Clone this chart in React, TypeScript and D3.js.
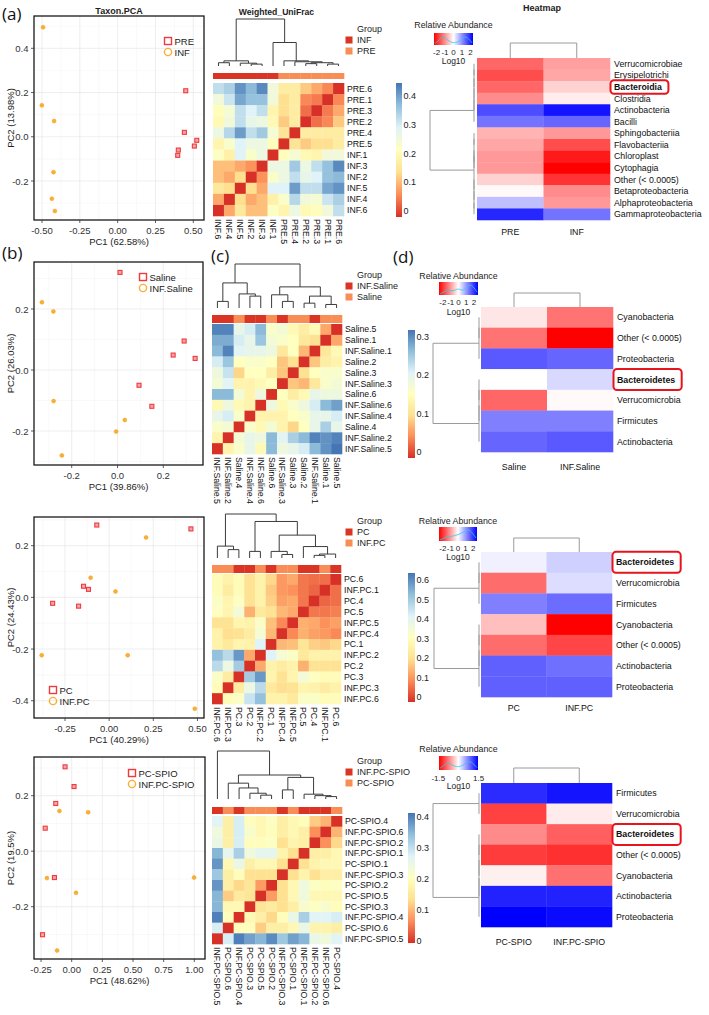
import React, { useLayoutEffect, useRef, useState } from "react";
import * as d3 from "d3";

type Tree = string | { h: number; c: [Tree, Tree] };
const nd = (h: number, a: Tree, b: Tree): Tree => ({ h, c: [a, b] });

const FONT = "'Liberation Sans', Arial, Helvetica, sans-serif";
const LABEL_FONT = "'Open Sans', 'Liberation Sans', Arial, sans-serif";
const PT_RED = "#ef3a3f";
const PT_ORANGE = "#f7b035";
const GRP_RED = "#da3425";
const GRP_ORANGE = "#f98d56";
const RDYLBU = ["#D73027", "#FC8D59", "#FEE090", "#FFFFBF", "#E0F3F8", "#91BFDB", "#4575B4"];
const TREE_GREY = "#9a9a9a";

/* ======================= (a) ======================= */
const pca1Names = ["PRE", "INF"];
const pca1PreX = [0.45, 0.441, 0.523, 0.507, 0.401, 0.397];
const pca1PreY = [0.208, 0.02, -0.016, -0.042, -0.06, -0.084];
const pca1InfX = [-0.493, -0.501, -0.42, -0.424, -0.435, -0.415];
const pca1InfY = [0.495, 0.142, 0.071, -0.16, -0.28, -0.336];
const pca1XTicks = [-0.5, -0.25, 0, 0.25, 0.5];
const pca1YTicks = [-0.2, 0, 0.2, 0.4];

const uf1Groups = ["INF", "PRE"];
const uf1Rows = ["PRE.6", "PRE.1", "PRE.3", "PRE.2", "PRE.4", "PRE.5", "INF.1", "INF.3", "INF.2", "INF.5", "INF.4", "INF.6"];
const uf1Cols = ["INF.6", "INF.4", "INF.5", "INF.2", "INF.3", "INF.1", "PRE.5", "PRE.4", "PRE.2", "PRE.3", "PRE.1", "PRE.6"];
const uf1Vals = [
  [0.33, 0.35, 0.42, 0.38, 0.43, 0.26, 0.18, 0.18, 0.13, 0.10, 0.07, 0],
  [0.26, 0.32, 0.40, 0.37, 0.37, 0.26, 0.15, 0.18, 0.07, 0.06, 0, 0.07],
  [0.22, 0.25, 0.33, 0.30, 0.33, 0.20, 0.15, 0.18, 0.05, 0, 0.06, 0.10],
  [0.21, 0.26, 0.33, 0.28, 0.27, 0.21, 0.13, 0.18, 0, 0.05, 0.07, 0.13],
  [0.27, 0.34, 0.41, 0.33, 0.36, 0.25, 0.16, 0, 0.18, 0.18, 0.18, 0.18],
  [0.20, 0.24, 0.30, 0.27, 0.27, 0.22, 0, 0.16, 0.13, 0.15, 0.15, 0.18],
  [0.23, 0.19, 0.30, 0.24, 0.27, 0, 0.22, 0.25, 0.21, 0.20, 0.26, 0.26],
  [0.12, 0.12, 0.10, 0.08, 0, 0.27, 0.27, 0.36, 0.27, 0.33, 0.37, 0.43],
  [0.12, 0.10, 0.15, 0, 0.08, 0.24, 0.27, 0.33, 0.28, 0.30, 0.37, 0.38],
  [0.17, 0.15, 0, 0.15, 0.10, 0.30, 0.30, 0.41, 0.33, 0.33, 0.40, 0.42],
  [0.10, 0, 0.15, 0.10, 0.12, 0.19, 0.24, 0.34, 0.26, 0.25, 0.32, 0.35],
  [0, 0.10, 0.17, 0.12, 0.12, 0.23, 0.20, 0.27, 0.21, 0.22, 0.26, 0.33],
];
const uf1Tree = nd(1,
  nd(0.11, nd(0.07, "INF.6", "INF.4"), nd(0.06, "INF.5", nd(0.04, "INF.2", "INF.3"))),
  nd(0.5, "INF.1", nd(0.11, "PRE.5", nd(0.09, "PRE.4", nd(0.07, nd(0.05, "PRE.2", "PRE.3"), nd(0.04, "PRE.1", "PRE.6"))))));
const uf1BarTicks = [0, 0.1, 0.2, 0.3, 0.4];

const ab1Taxa = ["Verrucomicrobiae", "Erysipelotrichi", "Bacteroidia", "Clostridia", "Actinobacteria", "Bacilli",
  "Sphingobacteriia", "Flavobacteriia", "Chloroplast", "Cytophagia", "Other (< 0.0005)", "Betaproteobacteria",
  "Alphaproteobacteria", "Gammaproteobacteria"];
const ab1Samples = ["PRE", "INF"];
const ab1Pre = [-1.2, -1.4, -1.2, -0.9, 1.4, 1.1, -0.6, -0.7, -0.8, -0.8, -0.35, -0.05, 0.5, 1.7];
const ab1Inf = [-0.75, -0.7, -0.35, -0.15, 1.85, 1.2, -0.8, -1.4, -1.8, -2.0, -1.6, -0.9, -0.8, 1.1];
const ab1Tree = nd(1,
  nd(0, nd(0, nd(0, nd(0, nd(0, "Verrucomicrobiae", "Erysipelotrichi"), "Bacteroidia"), "Clostridia"), "Actinobacteria"), "Bacilli"),
  nd(0, nd(0, nd(0, "Sphingobacteriia", "Flavobacteriia"), nd(0, "Chloroplast", "Cytophagia")),
    nd(0, "Other (< 0.0005)", nd(0, "Betaproteobacteria", nd(0, "Alphaproteobacteria", "Gammaproteobacteria")))));
const ab1KeyTicks = [-2, -1, 0, 1, 2];
const ab1Density = [0.1, 0.35, 0.85, 0.55, 0.25, 0.15, 0.2, 0.4, 0.8, 0.6, 0.15];

/* ======================= (b) Saline ======================= */
const pca2Names = ["Saline", "INF.Saline"];
const pca2SalX = [0.011, 0.291, 0.243, 0.339, 0.094, 0.15];
const pca2SalY = [0.32, 0.095, 0.049, 0.038, -0.05, -0.119];
const pca2InfX = [-0.33, -0.28, -0.279, 0.032, -0.006, -0.243];
const pca2InfY = [0.222, 0.192, -0.102, -0.164, -0.202, -0.28];
const pca2XTicks = [-0.2, 0, 0.2];
const pca2YTicks = [-0.2, 0, 0.2];

const uf2Groups = ["INF.Saline", "Saline"];
const uf2Rows = ["Saline.5", "Saline.1", "INF.Saline.1", "Saline.2", "Saline.3", "INF.Saline.3", "Saline.6",
  "INF.Saline.6", "INF.Saline.4", "Saline.4", "INF.Saline.2", "INF.Saline.5"];
const uf2Cols = ["INF.Saline.5", "INF.Saline.2", "Saline.4", "INF.Saline.4", "INF.Saline.6", "Saline.6",
  "INF.Saline.3", "Saline.3", "Saline.2", "INF.Saline.1", "Saline.1", "Saline.5"];
const uf2Vals = [
  [0.31, 0.31, 0.20, 0.22, 0.27, 0.17, 0.18, 0.15, 0.13, 0.15, 0.07, 0],
  [0.28, 0.28, 0.22, 0.20, 0.26, 0.18, 0.17, 0.16, 0.12, 0.11, 0, 0.07],
  [0.27, 0.31, 0.21, 0.20, 0.20, 0.19, 0.12, 0.16, 0.08, 0, 0.12, 0.15],
  [0.22, 0.26, 0.16, 0.17, 0.17, 0.16, 0.09, 0.11, 0, 0.09, 0.13, 0.14],
  [0.19, 0.23, 0.10, 0.16, 0.16, 0.13, 0.09, 0, 0.11, 0.16, 0.17, 0.17],
  [0.18, 0.21, 0.14, 0.14, 0.15, 0.16, 0, 0.09, 0.08, 0.12, 0.17, 0.18],
  [0.27, 0.27, 0.18, 0.14, 0.19, 0, 0.16, 0.13, 0.15, 0.20, 0.19, 0.19],
  [0.15, 0.19, 0.15, 0.14, 0, 0.19, 0.15, 0.17, 0.19, 0.22, 0.27, 0.29],
  [0.20, 0.22, 0.17, 0, 0.14, 0.14, 0.14, 0.16, 0.17, 0.20, 0.20, 0.22],
  [0.17, 0.18, 0, 0.17, 0.15, 0.18, 0.14, 0.10, 0.16, 0.20, 0.25, 0.20],
  [0.14, 0, 0.18, 0.20, 0.19, 0.27, 0.21, 0.25, 0.27, 0.31, 0.30, 0.31],
  [0, 0.14, 0.17, 0.20, 0.15, 0.27, 0.19, 0.20, 0.22, 0.27, 0.30, 0.32],
];
const uf2Tree = nd(1,
  nd(0.57, nd(0.15, "INF.Saline.5", "INF.Saline.2"), nd(0.32, "Saline.4", nd(0.27, "INF.Saline.4", "INF.Saline.6"))),
  nd(0.48, nd(0.3, "Saline.6", nd(0.15, "INF.Saline.3", "Saline.3")),
    nd(0.27, nd(0.11, "Saline.2", "INF.Saline.1"), nd(0.08, "Saline.1", "Saline.5"))));
const uf2BarTicks = [0, 0.1, 0.2, 0.3];

const ab2Taxa = ["Cyanobacteria", "Other (< 0.0005)", "Proteobacteria", "Bacteroidetes", "Verrucomicrobia", "Firmicutes", "Actinobacteria"];
const ab2Samples = ["Saline", "INF.Saline"];
const ab2Sal = [-0.2, -1.1, 1.3, 0, -1.2, 1.0, 1.2];
const ab2Inf = [-1.1, -2.0, 1.2, 0.3, -0.05, 1.0, 1.3];
const ab2Tree = nd(1,
  nd(0, nd(0, "Cyanobacteria", "Other (< 0.0005)"), "Proteobacteria"),
  nd(0, nd(0, nd(0, "Bacteroidetes", "Verrucomicrobia"), "Firmicutes"), "Actinobacteria"));
const ab2KeyTicks = [-2, -1, 0, 1, 2];
const ab2Density = [0.05, 0.2, 0.45, 0.3, 0.35, 0.55, 0.3, 0.5, 0.9, 0.7, 0.2];

/* ======================= PC ======================= */
const pca3Names = ["PC", "INF.PC"];
const pca3PcX = [-0.07, 0.463, -0.145, -0.117, -0.32, -0.173];
const pca3PcY = [0.28, 0.265, 0.043, 0.031, -0.023, -0.034];
const pca3InfX = [0.209, -0.105, 0.036, -0.382, 0.105, 0.485];
const pca3InfY = [0.232, 0.076, 0.023, -0.224, -0.224, -0.431];
const pca3XTicks = [-0.25, 0, 0.25, 0.5];
const pca3YTicks = [-0.4, -0.2, 0, 0.2];

const uf3Groups = ["PC", "INF.PC"];
const uf3Rows = ["PC.6", "INF.PC.1", "PC.4", "PC.5", "INF.PC.5", "INF.PC.4", "PC.1", "INF.PC.2", "PC.2", "PC.3", "INF.PC.3", "INF.PC.6"];
const uf3Cols = ["INF.PC.6", "INF.PC.3", "PC.3", "PC.2", "INF.PC.2", "PC.1", "INF.PC.4", "INF.PC.5", "PC.5", "PC.4", "INF.PC.1", "PC.6"];
const uf3Vals = [
  [0.30, 0.27, 0.30, 0.22, 0.27, 0.20, 0.12, 0.14, 0.08, 0.07, 0.07, 0],
  [0.30, 0.25, 0.30, 0.22, 0.27, 0.18, 0.12, 0.11, 0.08, 0.06, 0, 0.07],
  [0.33, 0.28, 0.32, 0.22, 0.27, 0.19, 0.13, 0.14, 0.08, 0, 0.06, 0.07],
  [0.32, 0.28, 0.36, 0.15, 0.24, 0.22, 0.16, 0.14, 0, 0.08, 0.08, 0.09],
  [0.22, 0.22, 0.28, 0.27, 0.33, 0.17, 0.10, 0, 0.15, 0.14, 0.11, 0.13],
  [0.27, 0.21, 0.22, 0.25, 0.35, 0.16, 0, 0.10, 0.15, 0.13, 0.12, 0.10],
  [0.27, 0.24, 0.28, 0.27, 0.42, 0, 0.16, 0.17, 0.23, 0.19, 0.18, 0.20],
  [0.52, 0.47, 0.58, 0.14, 0, 0.42, 0.35, 0.33, 0.24, 0.27, 0.27, 0.27],
  [0.47, 0.38, 0.50, 0, 0.14, 0.27, 0.25, 0.27, 0.15, 0.22, 0.22, 0.22],
  [0.33, 0.25, 0, 0.50, 0.58, 0.28, 0.22, 0.28, 0.36, 0.32, 0.30, 0.30],
  [0.30, 0, 0.25, 0.38, 0.47, 0.24, 0.21, 0.22, 0.28, 0.27, 0.25, 0.27],
  [0, 0.30, 0.33, 0.45, 0.52, 0.27, 0.27, 0.24, 0.33, 0.33, 0.30, 0.30],
];
const uf3Tree = nd(1,
  nd(0.27, "INF.PC.6", nd(0.19, "INF.PC.3", "PC.3")),
  nd(0.83, nd(0.15, "PC.2", "INF.PC.2"),
    nd(0.52, nd(0.15, "PC.1", nd(0.08, "INF.PC.4", "INF.PC.5")),
      nd(0.26, "PC.5", nd(0.09, nd(0.06, "PC.4", "INF.PC.1"), "PC.6")))));
const uf3BarTicks = [0, 0.1, 0.2, 0.3, 0.4, 0.5, 0.6];

const ab3Taxa = ["Bacteroidetes", "Verrucomicrobia", "Firmicutes", "Cyanobacteria", "Other (< 0.0005)", "Actinobacteria", "Proteobacteria"];
const ab3Samples = ["PC", "INF.PC"];
const ab3Pc = [0.12, -1.15, 1.0, -0.5, -1.15, 1.25, 1.25];
const ab3Inf = [0.37, 0.27, 1.15, -2.0, -1.46, 1.12, 1.25];
const ab3Tree = nd(1,
  nd(0, nd(0, "Bacteroidetes", "Verrucomicrobia"), "Firmicutes"),
  nd(0, nd(0, nd(0, "Cyanobacteria", "Other (< 0.0005)"), "Actinobacteria"), "Proteobacteria"));
const ab3KeyTicks = [-2, -1, 0, 1, 2];
const ab3Density = [0.05, 0.15, 0.35, 0.3, 0.4, 0.45, 0.6, 0.75, 0.9, 0.6, 0.2];

/* ======================= PC-SPIO ======================= */
const pca4Names = ["PC-SPIO", "INF.PC-SPIO"];
const pca4PcX = [-0.054, 0.019, -0.13, -0.216, -0.141, -0.238];
const pca4PcY = [0.304, 0.233, 0.172, 0.083, -0.095, -0.301];
const pca4InfX = [-0.1, 0.134, -0.202, 0.035, 0.998, -0.119];
const pca4InfY = [0.145, 0.14, -0.097, -0.15, -0.095, -0.358];
const pca4XTicks = [-0.25, 0, 0.25, 0.5, 0.75, 1.0];
const pca4YTicks = [-0.2, 0, 0.2];

const uf4Groups = ["INF.PC-SPIO", "PC-SPIO"];
const uf4Rows = ["PC-SPIO.4", "INF.PC-SPIO.6", "INF.PC-SPIO.2", "INF.PC-SPIO.1", "PC-SPIO.1", "INF.PC-SPIO.3",
  "PC-SPIO.2", "PC-SPIO.5", "PC-SPIO.3", "INF.PC-SPIO.4", "PC-SPIO.6", "INF.PC-SPIO.5"];
const uf4Cols = ["INF.PC-SPIO.5", "PC-SPIO.6", "INF.PC-SPIO.4", "PC-SPIO.3", "PC-SPIO.5", "PC-SPIO.2",
  "INF.PC-SPIO.3", "PC-SPIO.1", "INF.PC-SPIO.1", "INF.PC-SPIO.2", "INF.PC-SPIO.6", "PC-SPIO.4"];
const uf4Vals = [
  [0.27, 0.17, 0.28, 0.20, 0.19, 0.21, 0.17, 0.19, 0.20, 0.12, 0.10, 0],
  [0.24, 0.17, 0.28, 0.22, 0.19, 0.20, 0.17, 0.19, 0.17, 0.07, 0, 0.10],
  [0.25, 0.17, 0.28, 0.20, 0.20, 0.21, 0.14, 0.18, 0.17, 0, 0.07, 0.13],
  [0.35, 0.26, 0.32, 0.24, 0.26, 0.26, 0.18, 0.14, 0, 0.17, 0.17, 0.19],
  [0.38, 0.19, 0.25, 0.17, 0.19, 0.19, 0.14, 0, 0.14, 0.18, 0.19, 0.19],
  [0.33, 0.17, 0.20, 0.14, 0.14, 0.14, 0, 0.14, 0.18, 0.14, 0.17, 0.17],
  [0.38, 0.17, 0.13, 0.15, 0.08, 0, 0.14, 0.19, 0.24, 0.21, 0.20, 0.21],
  [0.35, 0.12, 0.16, 0.15, 0, 0.08, 0.14, 0.19, 0.24, 0.19, 0.19, 0.19],
  [0.35, 0.19, 0.19, 0, 0.15, 0.16, 0.14, 0.17, 0.22, 0.21, 0.22, 0.20],
  [0.40, 0.20, 0, 0.19, 0.17, 0.13, 0.20, 0.25, 0.32, 0.27, 0.27, 0.28],
  [0.28, 0, 0.20, 0.20, 0.12, 0.17, 0.17, 0.19, 0.25, 0.18, 0.18, 0.17],
  [0, 0.28, 0.40, 0.37, 0.35, 0.39, 0.33, 0.37, 0.35, 0.25, 0.24, 0.27],
];
const uf4Tree = nd(1, "INF.PC-SPIO.5",
  nd(0.5,
    nd(0.33, "PC-SPIO.6", nd(0.23, "INF.PC-SPIO.4", nd(0.12, "PC-SPIO.3", nd(0.08, "PC-SPIO.5", "PC-SPIO.2")))),
    nd(0.45, nd(0.19, "INF.PC-SPIO.3", "PC-SPIO.1"),
      nd(0.1, "INF.PC-SPIO.1", nd(0.07, "INF.PC-SPIO.2", nd(0.05, "INF.PC-SPIO.6", "PC-SPIO.4"))))));
const uf4BarTicks = [0, 0.1, 0.2, 0.3, 0.4];

const ab4Taxa = ["Firmicutes", "Verrucomicrobia", "Bacteroidetes", "Other (< 0.0005)", "Cyanobacteria", "Actinobacteria", "Proteobacteria"];
const ab4Samples = ["PC-SPIO", "INF.PC-SPIO"];
const ab4Pc = [1.25, -1.12, -0.69, -1.15, -0.09, 1.3, 1.5];
const ab4Inf = [1.38, -0.12, -0.94, -1.22, -0.84, 1.3, 1.44];
const ab4Tree = nd(1,
  nd(0, "Firmicutes", "Verrucomicrobia"),
  nd(0, nd(0, nd(0, nd(0, "Bacteroidetes", "Other (< 0.0005)"), "Cyanobacteria"), "Actinobacteria"), "Proteobacteria"));
const ab4KeyTicks = [-1.5, 0, 1.5];
const ab4Density = [0.1, 0.3, 0.6, 0.4, 0.25, 0.2, 0.3, 0.5, 0.7, 0.45, 0.15];

/* ======================= helpers ======================= */
function treeSegs(t: Tree, pos: (n: string) => number, hs: (h: number) => number) {
  const segs: number[][] = [];
  const rec = (n: Tree): { p: number; h: number } => {
    if (typeof n === "string") return { p: pos(n), h: 0 };
    const a = rec(n.c[0]);
    const b = rec(n.c[1]);
    const y = hs(n.h);
    segs.push([a.p, y, b.p, y]);
    segs.push([a.p, y, a.p, hs(a.h)]);
    segs.push([b.p, y, b.p, hs(b.h)]);
    return { p: (a.p + b.p) / 2, h: n.h };
  };
  rec(t);
  return segs;
}

function BoxedLabel({ x, y, text, fs, h }: { x: number; y: number; text: string; fs: number; h: number }) {
  const ref = useRef<SVGTextElement>(null);
  const [w, setW] = useState(text.length * fs * 0.55);
  useLayoutEffect(() => {
    if (ref.current) setW(ref.current.getComputedTextLength());
  }, [text]);
  return (
    <g>
      <rect x={x - 3.5} y={y - h / 2} width={w + 10} height={h} rx={3.5} fill="none" stroke="#e8141b" strokeWidth={2} />
      <text ref={ref} x={x} y={y} fontSize={fs} fontWeight="bold" dominantBaseline="central" fill="#111">{text}</text>
    </g>
  );
}

/* ======================= PCA ======================= */
function PCA(p: any) {
  const [x0, y0, x1, y1] = p.box;
  const xs = d3.scaleLinear().domain([p.xCal[0], p.xCal[2]]).range([p.xCal[1], p.xCal[3]]);
  const ys = d3.scaleLinear().domain([p.yCal[0], p.yCal[2]]).range([p.yCal[1], p.yCal[3]]);
  const minor = (ticks: number[], sc: any, lo: number, hi: number) => {
    const st = ticks[1] - ticks[0];
    const res: number[] = [];
    for (let i = -1; i < ticks.length; i++) {
      const px = sc(ticks[0] + (i + 0.5) * st);
      if (px > Math.min(lo, hi) + 1 && px < Math.max(lo, hi) - 1) res.push(px);
    }
    return res;
  };
  const mx = minor(p.xTicks, xs, x0, x1);
  const my = minor(p.yTicks, ys, y0, y1);
  const [lx, ly] = p.legend;
  return (
    <g>
      <rect x={x0} y={y0} width={x1 - x0} height={y1 - y0} fill="#fff" />
      {mx.map((v: number, i: number) => <line key={"mx" + i} x1={v} x2={v} y1={y0} y2={y1} stroke="#f3f3f3" strokeWidth={0.5} />)}
      {my.map((v: number, i: number) => <line key={"my" + i} x1={x0} x2={x1} y1={v} y2={v} stroke="#f3f3f3" strokeWidth={0.5} />)}
      {p.xTicks.map((t: number, i: number) => <line key={"gx" + i} x1={xs(t)} x2={xs(t)} y1={y0} y2={y1} stroke="#e6e6e6" strokeWidth={0.7} />)}
      {p.yTicks.map((t: number, i: number) => <line key={"gy" + i} x1={x0} x2={x1} y1={ys(t)} y2={ys(t)} stroke="#e6e6e6" strokeWidth={0.7} />)}
      {p.orange.x.map((v: number, i: number) => (
        <circle key={"o" + i} cx={xs(v)} cy={ys(p.orange.y[i])} r={2} fill={PT_ORANGE} stroke="#f5a01a" strokeWidth={0.5} />
      ))}
      {p.red.x.map((v: number, i: number) => (
        <rect key={"r" + i} x={xs(v) - 2} y={ys(p.red.y[i]) - 2} width={4} height={4} fill="#f8a5a7" stroke={PT_RED} strokeWidth={1.1} />
      ))}
      <rect x={x0} y={y0} width={x1 - x0} height={y1 - y0} fill="none" stroke="#1a1a1a" strokeWidth={1.3} />
      {p.xTicks.map((t: number, i: number) => (
        <g key={"tx" + i}>
          <line x1={xs(t)} x2={xs(t)} y1={y1} y2={y1 + 3} stroke="#333" strokeWidth={0.8} />
          <text x={xs(t)} y={y1 + 10.5} textAnchor="middle" dominantBaseline="central" fontSize={9.5} fill="#333">{t.toFixed(p.xDec)}</text>
        </g>
      ))}
      {p.yTicks.map((t: number, i: number) => (
        <g key={"ty" + i}>
          <line x1={x0 - 3} x2={x0} y1={ys(t)} y2={ys(t)} stroke="#333" strokeWidth={0.8} />
          <text x={x0 - 5.5} y={ys(t)} textAnchor="end" dominantBaseline="central" fontSize={9.5} fill="#333">{t.toFixed(1)}</text>
        </g>
      ))}
      <text x={(x0 + x1) / 2} y={y1 + 21} textAnchor="middle" dominantBaseline="central" fontSize={9.5} fill="#222">{p.xLab}</text>
      <text transform={`translate(10,${(y0 + y1) / 2}) rotate(-90)`} textAnchor="middle" dominantBaseline="central" fontSize={9.5} fill="#222">{p.yLab}</text>
      <rect x={lx - 3.5} y={ly - 3.5} width={7} height={7} fill="none" stroke={PT_RED} strokeWidth={1.4} />
      <text x={lx + 6.5} y={ly} dominantBaseline="central" fontSize={9.5} fill="#222">{p.names[0]}</text>
      <circle cx={lx} cy={ly + 11} r={3.6} fill="none" stroke={PT_ORANGE} strokeWidth={1.4} />
      <text x={lx + 6.5} y={ly + 11} dominantBaseline="central" fontSize={9.5} fill="#222">{p.names[1]}</text>
      {p.title && (
        <text x={(x0 + x1) / 2} y={y0 - 5} textAnchor="middle" dominantBaseline="central" fontSize={9} fontWeight="bold" fill="#222">{p.title}</text>
      )}
    </g>
  );
}

/* ======================= Distance heatmap ======================= */
function DistHeatmap(p: any) {
  const [x0, y0, x1, y1] = p.hm;
  const xb = d3.scaleBand<string>().domain(p.cols).range([x0, x1]);
  const yb = d3.scaleBand<string>().domain(p.rows).range([y0, y1]);
  const bw = xb.bandwidth();
  const bh = yb.bandwidth();
  const color = d3.scaleLinear<string>().domain(RDYLBU.map((_, i) => (i / 6) * p.cmax)).range(RDYLBU).clamp(true);
  const grpOf = (n: string) => n.replace(/\.\d+$/, "");
  const grpColor = (n: string) => (grpOf(n) === p.groups[0] ? GRP_RED : GRP_ORANGE);
  const hy = d3.scaleLinear().domain([0, 1]).range([p.treeY[1], p.treeY[0]]);
  const segs = treeSegs(p.tree, (n) => (xb(n) as number) + bw / 2, (h) => hy(h));
  const path = segs.map((s) => `M${s[0]},${s[1]}L${s[2]},${s[3]}`).join("");
  const cb = p.cbar;
  const cby = d3.scaleLinear().domain([cb.d0, cb.d1]).range([cb.y1, cb.y0]);
  const [gx, gy] = p.legendXY;
  return (
    <g>
      <defs>
        <linearGradient id={p.gid} x1="0" y1="1" x2="0" y2="0">
          {RDYLBU.map((c, i) => <stop key={i} offset={i / 6} stopColor={c} />)}
        </linearGradient>
      </defs>
      {p.title && <text x={(x0 + x1) / 2 - 2} y={p.title[1]} textAnchor="middle" dominantBaseline="central" fontSize={8.6} fontWeight="bold" fill="#222">{p.title[0]}</text>}
      <path d={path} stroke="#3c3c3c" strokeWidth={1} fill="none" />
      {p.cols.map((c: string) => (
        <rect key={"a" + c} x={xb(c)} y={p.bar[0]} width={bw + 0.3} height={p.bar[1] - p.bar[0]} fill={grpColor(c)} />
      ))}
      {p.rows.map((r: string, i: number) =>
        p.cols.map((c: string, j: number) => (
          <rect key={r + "|" + c} x={xb(c)} y={yb(r)} width={bw + 0.3} height={bh + 0.3} fill={color(p.vals[i][j])} />
        ))
      )}
      {p.rows.map((r: string) => (
        <text key={"rl" + r} x={x1 + 3} y={(yb(r) as number) + bh / 2} dominantBaseline="central" fontSize={8.7} fill="#111">{r}</text>
      ))}
      {p.cols.map((c: string) => (
        <text key={"cl" + c} transform={`translate(${(xb(c) as number) + bw / 2},${y1 + 3}) rotate(90)`} dominantBaseline="central" fontSize={8.7} fill="#111">{c}</text>
      ))}
      <text x={gx} y={gy} dominantBaseline="central" fontSize={9} fill="#222">Group</text>
      {p.groups.map((g: string, i: number) => (
        <g key={"lg" + g}>
          <rect x={gx - 11.5} y={gy + 11 * (i + 1) - 3.5} width={7} height={7} fill={i === 0 ? GRP_RED : GRP_ORANGE} />
          <text x={gx} y={gy + 11 * (i + 1)} dominantBaseline="central" fontSize={9} fill="#222">{g}</text>
        </g>
      ))}
      <rect x={cb.x} y={cb.y0} width={cb.w} height={cb.y1 - cb.y0} fill={`url(#${p.gid})`} />
      {cb.ticks.map((t: number) => (
        <text key={"cb" + t} x={cb.x + cb.w + 1.5} y={cby(t)} dominantBaseline="central" fontSize={9} fill="#222">{t === 0 ? "0" : String(t)}</text>
      ))}
    </g>
  );
}

/* ======================= Abundance heatmap ======================= */
function AbundHeatmap(p: any) {
  const [x0, y0, x1, y1] = p.hm;
  const xb = d3.scaleBand<string>().domain(p.samples).range([x0, x1]);
  const yb = d3.scaleBand<string>().domain(p.taxa).range([y0, y1]);
  const bw = xb.bandwidth();
  const bh = yb.bandwidth();
  const color = d3.scaleLinear<string>().domain([-p.lim, 0, p.lim]).range(["#ff0000", "#ffffff", "#0000ff"]).clamp(true);
  const topSegs = treeSegs(nd(1, p.samples[0], p.samples[1]), (n) => (xb(n) as number) + bw / 2,
    d3.scaleLinear().domain([0, 1]).range([y0, p.topY]));
  const topPath = topSegs.map((s) => `M${s[0]},${s[1]}L${s[2]},${s[3]}`).join("");
  const leftSegs = treeSegs(p.tree, (n) => (yb(n) as number) + bh / 2,
    d3.scaleLinear().domain([0, 1]).range([p.leafX, p.rootX]));
  const leftPath = leftSegs.map((s) => `M${s[1]},${s[0]}L${s[3]},${s[2]}`).join("");
  const k = p.keyCfg;
  const kx = d3.scaleLinear().domain([k.lo, k.hi]).range([k.x0, k.x1]);
  const dx = d3.scaleLinear().domain([0, k.dens.length - 1]).range([k.x0 + 1, k.x1 - 1]);
  const dy = d3.scaleLinear().domain([0, 1]).range([k.y1 - 0.5, k.y0 + 1]);
  const densPath = d3.line<number>().x((_, i) => dx(i)).y((d) => dy(d)).curve(d3.curveBasis)(k.dens) || "";
  const gid = p.gid;
  return (
    <g>
      <defs>
        <linearGradient id={gid} x1="0" y1="0" x2="1" y2="0">
          <stop offset="0" stopColor="#ff0000" />
          <stop offset="0.5" stopColor="#ffffff" />
          <stop offset="1" stopColor="#0000ff" />
        </linearGradient>
      </defs>
      <text x={(k.x0 + k.x1) / 2} y={k.titleY} textAnchor="middle" dominantBaseline="central" fontSize={8.8} fill="#222">Relative Abundance</text>
      <rect x={k.x0} y={k.y0} width={k.x1 - k.x0} height={k.y1 - k.y0} fill={`url(#${gid})`} />
      <path d={densPath} stroke="#22d3ee" strokeWidth={0.8} fill="none" />
      {k.ticks.map((t: number) => (
        <text key={"kt" + t} x={kx(t)} y={k.tickY} textAnchor="middle" dominantBaseline="central" fontSize={8} fill="#222">{String(t)}</text>
      ))}
      <text x={(k.x0 + k.x1) / 2} y={k.logY} textAnchor="middle" dominantBaseline="central" fontSize={8.5} fill="#222">Log10</text>
      <path d={topPath} stroke={TREE_GREY} strokeWidth={1} fill="none" />
      <path d={leftPath} stroke={TREE_GREY} strokeWidth={1} fill="none" />
      {p.samples.map((s: string, j: number) =>
        p.taxa.map((t: string, i: number) => (
          <rect key={s + "|" + t} x={xb(s)} y={yb(t)} width={bw + 0.3} height={bh + 0.3} fill={color(p.series[j][i])} />
        ))
      )}
      {p.taxa.map((t: string) =>
        t === p.bold ? (
          <BoxedLabel key={"tl" + t} x={x1 + 4} y={(yb(t) as number) + bh / 2} text={t} fs={8.8} h={Math.min(bh + 2, 21)} />
        ) : (
          <text key={"tl" + t} x={x1 + 4} y={(yb(t) as number) + bh / 2} dominantBaseline="central" fontSize={8.8} fill="#111">{t}</text>
        )
      )}
      {p.samples.map((s: string) => (
        <text key={"sl" + s} x={(xb(s) as number) + bw / 2} y={p.colLabY} textAnchor="middle" dominantBaseline="central" fontSize={8.8} fill="#111">{s}</text>
      ))}
      {p.title && <text x={p.title[1]} y={p.title[2]} textAnchor="middle" dominantBaseline="central" fontSize={9} fontWeight="bold" fill="#222">{p.title[0]}</text>}
    </g>
  );
}

/* ======================= App ======================= */
export default function App() {
  return (
    <svg width={709} height={1015} viewBox="0 0 709 1015" fontFamily={FONT}
      style={{ position: "absolute", left: 0, top: 0, background: "#fff" }}>
      <rect width={709} height={1015} fill="#fff" />

      <text x={2} y={20} fontSize={17} fontFamily={LABEL_FONT} fill="#111">(a)</text>
      <text x={2} y={259} fontSize={17} fontFamily={LABEL_FONT} fill="#111">(b)</text>
      <text x={211} y={262} fontSize={17} fontFamily={LABEL_FONT} fill="#111">(c)</text>
      <text x={393} y={263} fontSize={17} fontFamily={LABEL_FONT} fill="#111">(d)</text>

      {/* ---------- row 1 ---------- */}
      <PCA box={[34, 16, 204, 220]} xCal={[-0.5, 42, 0.5, 193.3]} yCal={[0.4, 48.3, -0.2, 181]}
        xTicks={pca1XTicks} yTicks={pca1YTicks} xDec={2}
        xLab="PC1 (62.58%)" yLab="PC2 (13.98%)"
        red={{ x: pca1PreX, y: pca1PreY }} orange={{ x: pca1InfX, y: pca1InfY }}
        names={pca1Names} legend={[168, 41]} title="Taxon.PCA" />
      <DistHeatmap gid="cb1" rows={uf1Rows} cols={uf1Cols} vals={uf1Vals} tree={uf1Tree} groups={uf1Groups}
        hm={[213, 83, 344, 216]} bar={[73, 79]} treeY={[19, 66]} legendXY={[357, 29]} cmax={0.45}
        title={["Weighted_UniFrac", 12]}
        cbar={{ x: 396, w: 6, y0: 83, y1: 217, d0: -0.02, d1: 0.445, ticks: uf1BarTicks }} />
      <AbundHeatmap gid="ak1" taxa={ab1Taxa} samples={ab1Samples} series={[ab1Pre, ab1Inf]} tree={ab1Tree} lim={2}
        hm={[477, 58, 610, 220]} topY={43} rootX={430} leafX={474} bold="Bacteroidia" colLabY={232}
        title={["Heatmap", 542, 8]}
        keyCfg={{ x0: 434, x1: 473, y0: 33, y1: 45, lo: -2.3, hi: 2.3, ticks: ab1KeyTicks, tickY: 52, titleY: 25, logY: 61, dens: ab1Density }} />

      {/* ---------- row 2 ---------- */}
      <PCA box={[34, 262, 203, 465]} xCal={[-0.2, 71.7, 0.2, 163.3]} yCal={[0.2, 309, -0.2, 431]}
        xTicks={pca2XTicks} yTicks={pca2YTicks} xDec={1}
        xLab="PC1 (39.86%)" yLab="PC2 (26.03%)"
        red={{ x: pca2SalX, y: pca2SalY }} orange={{ x: pca2InfX, y: pca2InfY }}
        names={pca2Names} legend={[143, 277]} />
      <DistHeatmap gid="cb2" rows={uf2Rows} cols={uf2Cols} vals={uf2Vals} tree={uf2Tree} groups={uf2Groups}
        hm={[212, 324, 342, 454]} bar={[315, 323]} treeY={[264, 308]} legendXY={[357, 275]} cmax={0.32}
        cbar={{ x: 408, w: 7, y0: 330, y1: 458, d0: -0.0157, d1: 0.3185, ticks: uf2BarTicks }} />
      <AbundHeatmap gid="ak2" taxa={ab2Taxa} samples={ab2Samples} series={[ab2Sal, ab2Inf]} tree={ab2Tree} lim={2}
        hm={[481, 307, 613, 452]} topY={293} rootX={433} leafX={479} bold="Bacteroidetes" colLabY={467}
        keyCfg={{ x0: 439, x1: 478, y0: 282, y1: 295, lo: -2.5, hi: 2.5, ticks: ab2KeyTicks, tickY: 302, titleY: 276, logY: 312, dens: ab2Density }} />

      {/* ---------- row 3 ---------- */}
      <PCA box={[34, 517, 204, 718]} xCal={[-0.25, 65, 0.25, 153.3]} yCal={[0.2, 545.7, -0.4, 700.7]}
        xTicks={pca3XTicks} yTicks={pca3YTicks} xDec={2}
        xLab="PC1 (40.29%)" yLab="PC2 (24.43%)"
        red={{ x: pca3PcX, y: pca3PcY }} orange={{ x: pca3InfX, y: pca3InfY }}
        names={pca3Names} legend={[53, 690]} />
      <DistHeatmap gid="cb3" rows={uf3Rows} cols={uf3Cols} vals={uf3Vals} tree={uf3Tree} groups={uf3Groups}
        hm={[212, 574, 341, 704]} bar={[565, 573]} treeY={[514, 558]} legendXY={[357, 521]} cmax={0.63}
        cbar={{ x: 408, w: 7, y0: 573, y1: 702, d0: -0.0256, d1: 0.636, ticks: uf3BarTicks }} />
      <AbundHeatmap gid="ak3" taxa={ab3Taxa} samples={ab3Samples} series={[ab3Pc, ab3Inf]} tree={ab3Tree} lim={2}
        hm={[481, 552, 612, 697]} topY={538} rootX={434} leafX={479} bold="Bacteroidetes" colLabY={708}
        keyCfg={{ x0: 439, x1: 477, y0: 527, y1: 541, lo: -2.5, hi: 2.5, ticks: ab3KeyTicks, tickY: 548, titleY: 521, logY: 557, dens: ab3Density }} />

      {/* ---------- row 4 ---------- */}
      <PCA box={[34, 757, 205, 959]} xCal={[0, 71.7, 1, 194.3]} yCal={[0.2, 795.7, -0.2, 906.7]}
        xTicks={pca4XTicks} yTicks={pca4YTicks} xDec={2}
        xLab="PC1 (48.62%)" yLab="PC2 (19.5%)"
        red={{ x: pca4PcX, y: pca4PcY }} orange={{ x: pca4InfX, y: pca4InfY }}
        names={pca4Names} legend={[132, 773]} />
      <DistHeatmap gid="cb4" rows={uf4Rows} cols={uf4Cols} vals={uf4Vals} tree={uf4Tree} groups={uf4Groups}
        hm={[212, 816, 342, 944]} bar={[807, 814]} treeY={[751, 799]} legendXY={[357, 761]} cmax={0.41}
        cbar={{ x: 408, w: 7, y0: 813, y1: 943, d0: -0.0065, d1: 0.413, ticks: uf4BarTicks }} />
      <AbundHeatmap gid="ak4" taxa={ab4Taxa} samples={ab4Samples} series={[ab4Pc, ab4Inf]} tree={ab4Tree} lim={1.5}
        hm={[481, 783, 612, 927]} topY={768} rootX={433} leafX={479} bold="Bacteroidetes" colLabY={942}
        keyCfg={{ x0: 439, x1: 478, y0: 756, y1: 770, lo: -1.45, hi: 1.45, ticks: ab4KeyTicks, tickY: 778, titleY: 749, logY: 786, dens: ab4Density }} />
    </svg>
  );
}
